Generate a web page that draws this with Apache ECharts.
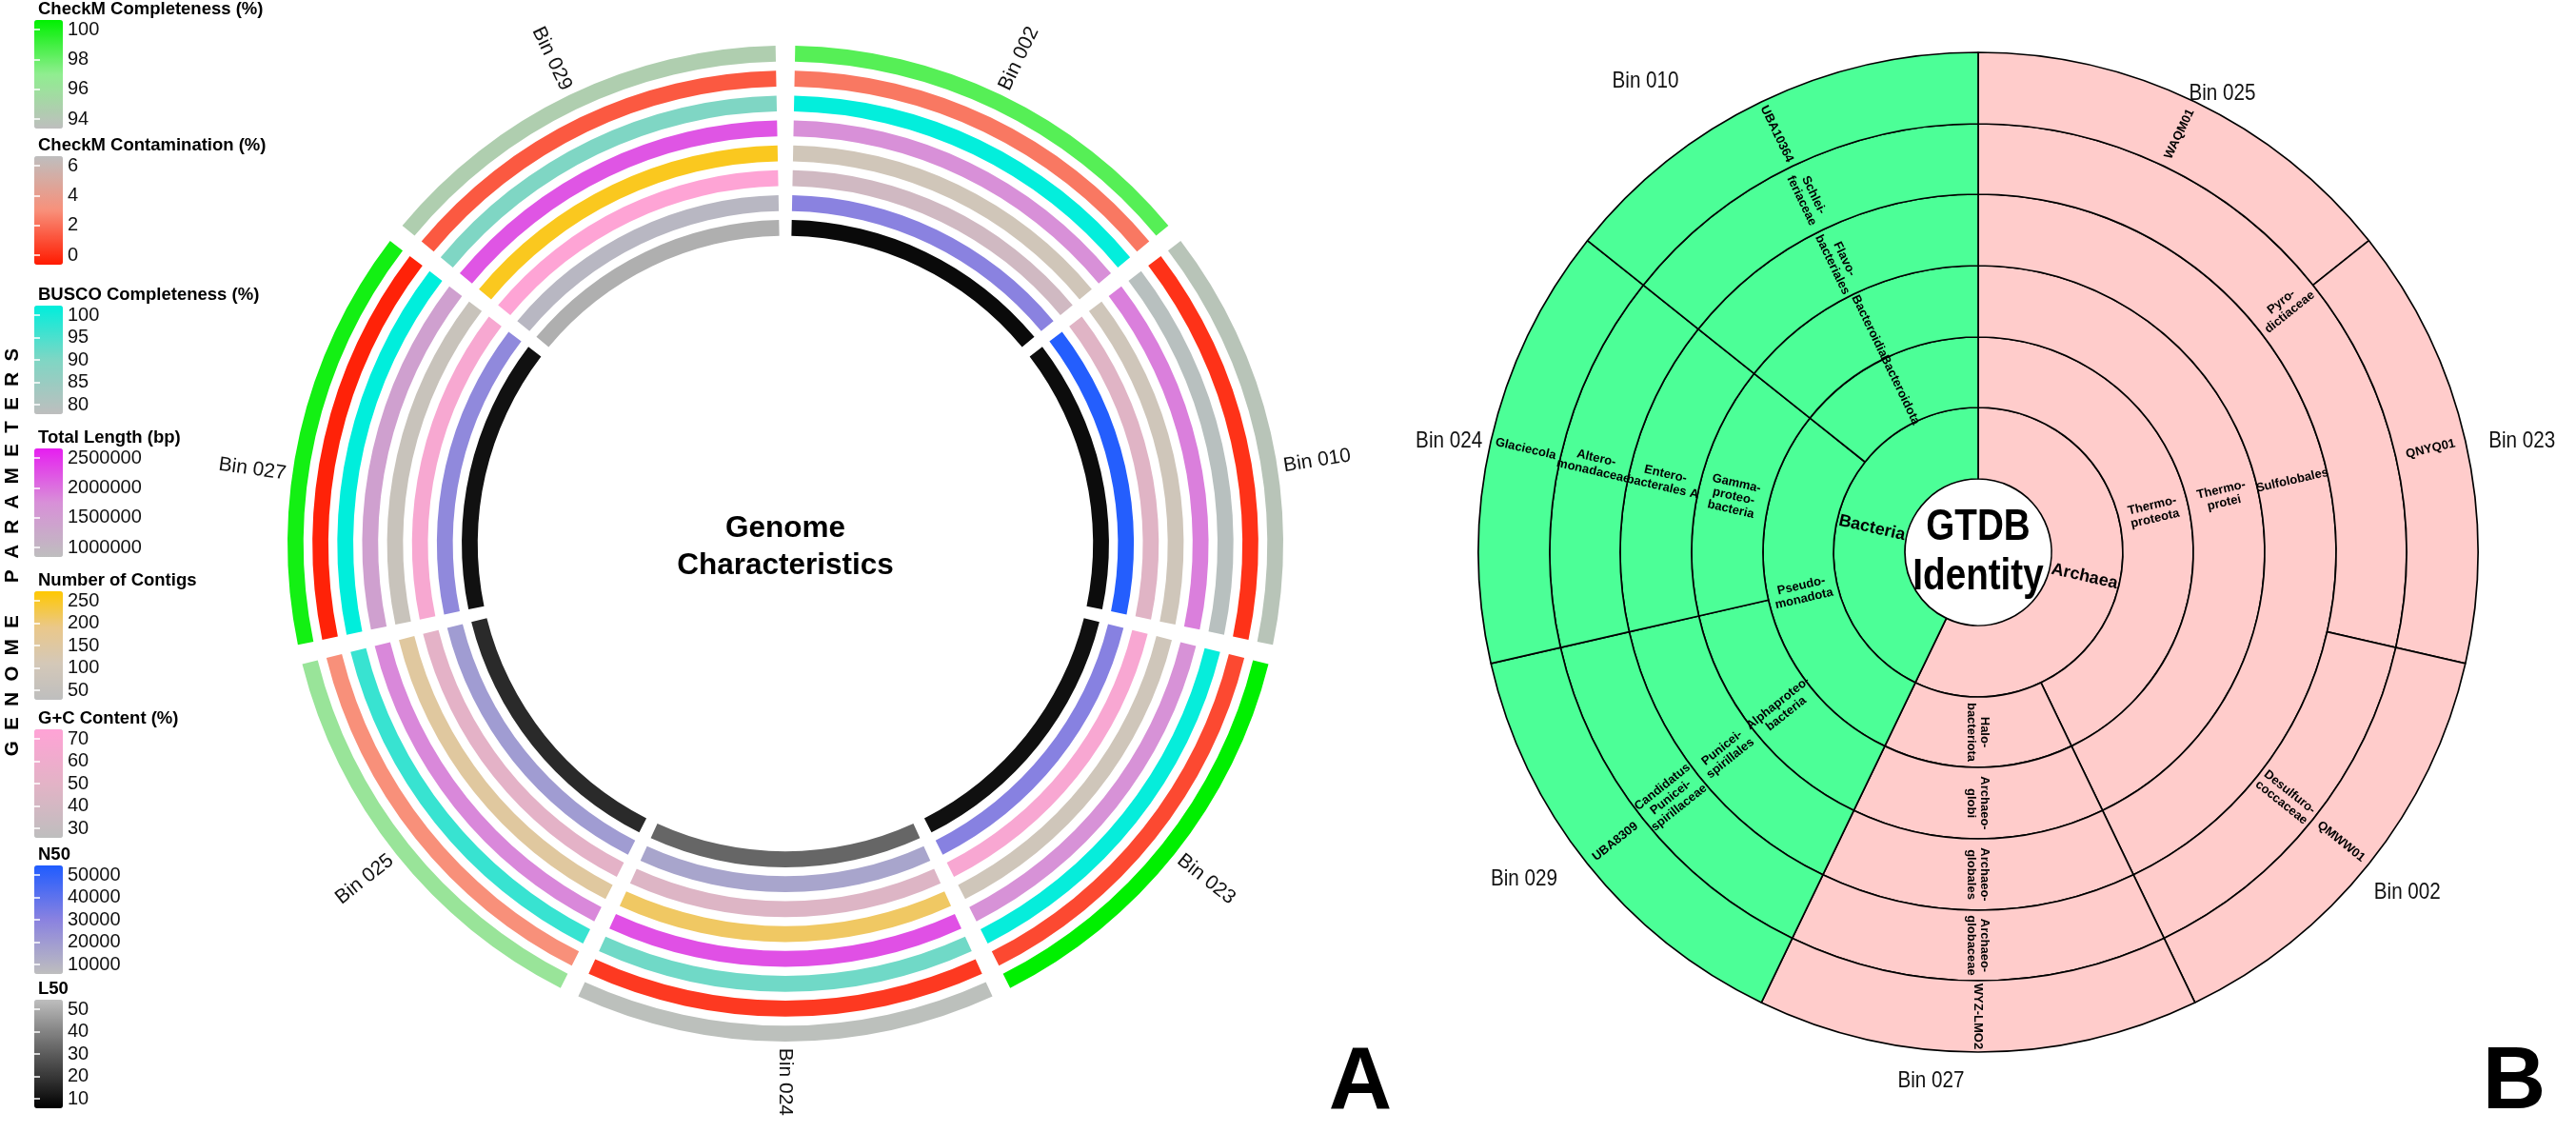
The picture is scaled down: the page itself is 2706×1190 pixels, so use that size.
<!DOCTYPE html>
<html><head><meta charset="utf-8">
<script src="https://cdn.jsdelivr.net/npm/echarts@6/dist/echarts.min.js"></script>
<style>html,body{margin:0;padding:0;background:#fff}#c{width:2706px;height:1190px}</style>
</head><body><div id="c"></div>
<script>
// ---------------- Panel A data ----------------
const bins = ['Bin 002','Bin 010','Bin 023','Bin 024','Bin 025','Bin 027','Bin 029'];
const checkmCompleteness = [98.2, 94.4, 100, 94.1, 96.4, 99.6, 95.0];
const checkmContamination = [2.4, 0.6, 1.2, 0.8, 3.0, 0.2, 1.6];
const buscoCompleteness = [99.8, 81.0, 99.5, 91.2, 95.6, 100, 90.0];
const totalLength = [1750000, 1860000, 1720000, 2170000, 1800000, 1490000, 2140000];
const numContigs = [104, 100, 100, 202, 153, 80, 235];
const gcContent = [39.7, 48.4, 65.0, 46.8, 51.0, 64.0, 69.0];
const n50 = [30000, 49000, 30500, 18500, 21500, 27700, 12300];
const l50 = [12, 12.5, 13.3, 32, 18.8, 13.5, 47];

const paramNames = ['CheckM Completeness (%)','CheckM Contamination (%)','BUSCO Completeness (%)','Total Length (bp)','Number of Contigs','G+C Content (%)','N50','L50'];
const paramMin = [94, 0, 80, 1000000, 50, 30, 10000, 10];
const paramMax = [100, 6, 100, 2500000, 250, 70, 50000, 50];
const paramStep = [2, 2, 5, 500000, 50, 10, 10000, 10];

// ---------------- Panel B data ----------------
const gtdbBins   = ['Bin 025','Bin 023','Bin 002','Bin 027','Bin 029','Bin 024','Bin 010'];
const gtdbDomain = ['Archaea','Archaea','Archaea','Archaea','Bacteria','Bacteria','Bacteria'];
const gtdbPhylum = ['Thermo-\nproteota','Thermo-\nproteota','Thermo-\nproteota','Halo-\nbacteriota','Pseudo-\nmonadota','Pseudo-\nmonadota','Bacteroidota'];
const gtdbClass  = ['Thermo-\nprotei','Thermo-\nprotei','Thermo-\nprotei','Archaeo-\nglobi','Alphaproteo-\nbacteria','Gamma-\nproteo-\nbacteria','Bacteroidia'];
const gtdbOrder  = ['Sulfolobales','Sulfolobales','Sulfolobales','Archaeo-\nglobales','Punicei-\nspirillales','Entero-\nbacterales A','Flavo-\nbacteriales'];
const gtdbFamily = ['Pyro-\ndictiaceae','Pyro-\ndictiaceae','Desulfuro-\ncoccaceae','Archaeo-\nglobaceae','Candidatus\nPunicei-\nspirillaceae','Altero-\nmonadaceae','Schlei-\nferiaceae'];
const gtdbGenus  = ['WAQM01','QNYQ01','QMWW01','WYZ-LMO2','UBA8309','Glaciecola','UBA10364'];

// ---------------- styles / layout ----------------
const palettes = [
  ['#bebebe','#90ee90','#00f000'],
  ['#ff1a00','#f8907a','#bebebe'],
  ['#bebebe','#7fd6c4','#00eedc'],
  ['#bebebe','#d890d8','#e61ef0'],
  ['#bebebe','#d4c8b8','#eac88a','#ffc800'],
  ['#bebebe','#e3b3c6','#ffa3d6'],
  ['#bebebe','#8a82e0','#1f5cff'],
  ['#000000','#303030','#5c5c5c','#8c8c8c','#bebebe']
];
const legendTitleY = [10, 153, 310, 460, 610, 755, 898, 1039];
const domainColors = {Archaea: '#ffcccb', Bacteria: '#4cff97'};
const FONT = 'Liberation Sans, Arial, sans-serif';
// label placement tweaks (angle shift in degrees, radius in px)
const labelShiftA = {'Bin 010': 4, 'Bin 027': -4.9};
const labelPlaceB = {
  'Bin 025': [2.3, 546], 'Bin 023': [1.3, 583], 'Bin 002': [-0.2, 575], 'Bin 027': [5.1, 558],
  'Bin 029': [2.8, 588], 'Bin 024': [-1.0, 568], 'Bin 010': [-9.5, 606]
};

const paramValues = [checkmCompleteness, checkmContamination, buscoCompleteness, totalLength, numContigs, gcContent, n50, l50];

const A_CX = 825, A_CY = 571, A_R = 523;
const B_CX = 2078, B_CY = 580, B_R = 525;
const RMAX = 20, RING = 0.64, GAP = 0.022;
const DEG = 7 / 360;

function trackRenderer(j) {
  return function (params, api) {
    const b = api.value(0);
    const rOut = RMAX - j, rIn = rOut - RING;
    const cx = params.coordSys.cx, cy = params.coordSys.cy;
    const p1 = api.coord([rOut, b + GAP]);
    const p2 = api.coord([rOut, b + 1 - GAP]);
    const p0 = api.coord([rIn, b + GAP]);
    const r = Math.hypot(p1[0] - cx, p1[1] - cy);
    const r0 = Math.hypot(p0[0] - cx, p0[1] - cy);
    let a1 = Math.atan2(p1[1] - cy, p1[0] - cx);
    let a2 = Math.atan2(p2[1] - cy, p2[0] - cx);
    if (a2 < a1) a2 += 2 * Math.PI;
    return {type: 'sector', shape: {cx, cy, r0, r, startAngle: a1, endAngle: a2, clockwise: true},
            style: {fill: api.visual('color')}};
  };
}

const series = [];
paramValues.forEach((vals, j) => {
  series.push({
    type: 'custom', coordinateSystem: 'polar', polarIndex: 0, silent: true,
    renderItem: trackRenderer(j),
    data: bins.map((n, b) => [b, vals[b]])
  });
});
// Panel A bin labels (radial, readable)
series.push({
  type: 'custom', coordinateSystem: 'polar', polarIndex: 0, silent: true,
  renderItem: function (params, api) {
    const b = api.value(0);
    const cx = params.coordSys.cx, cy = params.coordSys.cy;
    const shift = (labelShiftA[bins[b]] || 0) * DEG;
    const p = api.coord([RMAX + 0.26, b + 0.5 + shift]);
    const phi = Math.atan2(p[1] - cy, p[0] - cx);
    let rot = -phi, align = 'left';
    if (Math.cos(phi) < -1e-6) { rot = -phi + Math.PI; align = 'right'; }
    return {type: 'text', x: p[0], y: p[1], rotation: rot,
            style: {text: bins[b], align: align, verticalAlign: 'middle', fontSize: 21, fontFamily: FONT, fill: '#111'}};
  },
  data: bins.map((n, b) => [b, 0])
});

// sunburst tree
function buildTree() {
  const ranks = [gtdbDomain, gtdbPhylum, gtdbClass, gtdbOrder, gtdbFamily, gtdbGenus];
  const root = [];
  for (let i = 0; i < gtdbBins.length; i++) {
    let list = root;
    const color = domainColors[gtdbDomain[i]];
    for (let k = 0; k < ranks.length; k++) {
      const name = ranks[k][i];
      let last = list[list.length - 1];
      const leaf = k === ranks.length - 1;
      if (leaf || !last || last.name !== name) {
        last = leaf ? {name: name, value: 1, itemStyle: {color: color}} : {name: name, children: [], itemStyle: {color: color}};
        list.push(last);
      }
      list = last.children;
    }
  }
  return root;
}

const rb = [77, 152, 226, 301, 376, 450, B_R];
series.push({
  type: 'sunburst', center: [B_CX, B_CY], radius: [rb[0], rb[6]],
  sort: null, startAngle: 90, clockwise: true, nodeClick: false, z: 2,
  emphasis: {focus: 'none'},
  itemStyle: {borderColor: '#000', borderWidth: 1.7},
  label: {rotate: 'radial', fontSize: 13, fontWeight: 'bold', color: '#000', fontFamily: FONT, lineHeight: 14},
  data: buildTree(),
  levels: [
    {},
    {r0: rb[0], r: rb[1], label: {fontSize: 18}},
    {r0: rb[1], r: rb[2]},
    {r0: rb[2], r: rb[3]},
    {r0: rb[3], r: rb[4]},
    {r0: rb[4], r: rb[5]},
    {r0: rb[5], r: rb[6]}
  ]
});
// Panel B bin labels (horizontal)
series.push({
  type: 'custom', coordinateSystem: 'polar', polarIndex: 1, silent: true, z: 10,
  renderItem: function (params, api) {
    const b = api.value(0);
    const place = labelPlaceB[gtdbBins[b]] || [0, 565];
    const p = api.coord([place[1] / B_R, b + 0.5 + place[0] * DEG]);
    return {type: 'text', x: p[0], y: p[1],
            style: {text: gtdbBins[b], align: 'center', verticalAlign: 'middle', fontSize: 24, fontFamily: FONT, fill: '#111'},
            scaleX: 0.86};
  },
  data: gtdbBins.map((n, b) => [b, 0])
});

// legends
const grids = [], xAxes = [], yAxes = [], visualMaps = [], graphics = [];
const BAR_H = 114, BAR_OFF = 11, INSET = 10;
for (let i = 0; i < 8; i++) {
  const ty = legendTitleY[i];
  const barTop = ty + BAR_OFF;
  grids.push({left: 36, top: barTop + INSET, width: 30, height: BAR_H - 2 * INSET});
  xAxes.push({type: 'value', gridIndex: i, show: false, min: 0, max: 1});
  const common = {type: 'value', gridIndex: i, min: paramMin[i], max: paramMax[i], interval: paramStep[i], z: 10,
    axisLine: {show: false}, splitLine: {show: false},
    axisTick: {show: true, inside: true, length: 6, lineStyle: {color: '#fff', width: 1.5}}};
  yAxes.push(Object.assign({}, common, {position: 'right',
    axisLabel: {show: true, fontSize: 20, color: '#111', margin: 5, fontFamily: FONT, formatter: v => String(v)}}));
  yAxes.push(Object.assign({}, common, {position: 'left', axisLabel: {show: false}}));
  visualMaps.push({type: 'continuous', seriesIndex: i, dimension: 1, min: paramMin[i], max: paramMax[i],
    inRange: {color: palettes[i]}, left: 36, top: barTop, itemWidth: 30, itemHeight: BAR_H,
    calculable: false, padding: 0, hoverLink: false, text: null});
  graphics.push({type: 'text', x: 40, y: ty, style: {text: paramNames[i], fontSize: 18.5, fontWeight: 'bold', fontFamily: FONT, fill: '#000', align: 'left', verticalAlign: 'middle'}});
}
graphics.push({type: 'text', x: 13, y: 580, rotation: Math.PI / 2,
  style: {text: 'G  E  N  O  M  E      P  A  R  A  M  E  T  E  R  S', fontSize: 20.5, fontWeight: 'bold', fontFamily: FONT, fill: '#000', align: 'center', verticalAlign: 'middle'}});
graphics.push({type: 'text', x: A_CX, y: A_CY + 4, style: {text: 'Genome\nCharacteristics', fontSize: 31.5, fontWeight: 'bold', fontFamily: FONT, fill: '#000', align: 'center', verticalAlign: 'middle', lineHeight: 39}});
graphics.push({type: 'text', x: B_CX, y: B_CY, z: 100, scaleX: 0.84, style: {text: 'GTDB\nIdentity', fontSize: 46, fontWeight: 'bold', fontFamily: FONT, fill: '#000', align: 'center', verticalAlign: 'middle', lineHeight: 52}});
graphics.push({type: 'text', x: 1429, y: 1139, style: {text: 'A', fontSize: 92, fontWeight: 'bold', fontFamily: FONT, fill: '#000', align: 'center', verticalAlign: 'middle'}});
graphics.push({type: 'text', x: 2641, y: 1139, style: {text: 'B', fontSize: 92, fontWeight: 'bold', fontFamily: FONT, fill: '#000', align: 'center', verticalAlign: 'middle'}});

const chart = echarts.init(document.getElementById('c'), null, {renderer: 'canvas'});
chart.setOption({
  backgroundColor: '#fff',
  animation: false,
  textStyle: {fontFamily: FONT},
  polar: [{center: [A_CX, A_CY], radius: [0, A_R]}, {center: [B_CX, B_CY], radius: [0, B_R]}],
  radiusAxis: [{polarIndex: 0, type: 'value', min: 0, max: RMAX, show: false},
               {polarIndex: 1, type: 'value', min: 0, max: 1, show: false}],
  angleAxis: [{polarIndex: 0, type: 'value', min: 0, max: 7, startAngle: 90, clockwise: true, show: false},
              {polarIndex: 1, type: 'value', min: 0, max: 7, startAngle: 90, clockwise: true, show: false}],
  grid: grids, xAxis: xAxes, yAxis: yAxes,
  visualMap: visualMaps,
  graphic: graphics,
  series: series
});
</script></body></html>
